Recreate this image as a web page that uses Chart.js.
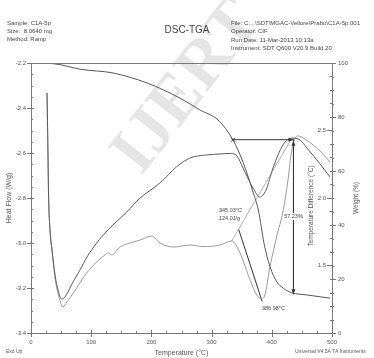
<!DOCTYPE html>
<html>
<head>
<meta charset="utf-8">
<script src="https://cdn.jsdelivr.net/npm/chart.js@4.4.1/dist/chart.umd.min.js"></script>
<style>
  html, body { margin: 0; padding: 0; background: #fff; }
  #wrap { width: 374px; height: 358px; position: relative; }
</style>
</head>
<body>
<div id="wrap"><canvas id="dscChart" width="374" height="358"></canvas></div>
<script>
// --- datos ---
// TGA: peso (%)
const tgaTemp   = [26.6, 48.2, 81.4, 136.2, 192.7, 247.5, 280.7, 310.6, 335.5, 352.2, 368.8, 378.0, 387.0, 397.0, 408.1, 419.1, 433.1, 458.0, 496.7];
const tgaWeight = [100, 99.4, 97.7, 96.3, 92.6, 87.0, 82.6, 78.9, 71.5, 63.3, 52.2, 45.2, 33.3, 24.6, 19.0, 16.6, 14.9, 14.1, 12.9];

// Diferencia de temperatura (°C), eje derecho
const dtaTemp = [26.6, 28.2, 29.1, 31.6, 34.9, 39.9, 44.9, 51.0, 56.5, 69.8, 81.4, 93.0, 109.1, 127.9, 159.0, 181.2, 214.3, 242.0, 264.1, 291.9, 313.9, 330.6, 342.2, 352.2, 368.8, 380.4, 390.4, 402.0, 418.6, 433.6, 446.8, 458.5, 480.1, 496.7];
const dtaDiff = [2.778, 2.356, 2.037, 1.763, 1.615, 1.430, 1.319, 1.252, 1.267, 1.378, 1.467, 1.563, 1.667, 1.763, 1.896, 2.0, 2.111, 2.232, 2.296, 2.319, 2.326, 2.330, 2.311, 2.222, 2.074, 2.007, 2.059, 2.222, 2.393, 2.444, 2.430, 2.370, 2.252, 2.156];

// Flujo de calor (W/g), eje izquierdo
const dscTemp = [26.6, 29.1, 31.6, 34.9, 39.9, 46.5, 52.7, 59.8, 70.3, 92.5, 109.1, 122.9, 128.4, 134.1, 147.8, 164.5, 181.1, 200.5, 214.3, 236.4, 264.1, 285.7, 313.9, 333.4, 347.2, 363.8, 374.9, 383.7, 388.5, 397.0, 408.1, 419.1, 426.9, 431.9, 436.9, 443.5, 455.1, 468.4, 480.1, 496.7];
const dscFlow = [-2.333, -2.778, -2.942, -3.031, -3.156, -3.240, -3.284, -3.262, -3.222, -3.133, -3.084, -3.053, -3.044, -3.053, -3.018, -3.0, -2.987, -2.969, -3.0, -3.018, -3.009, -3.016, -3.009, -2.991, -3.044, -3.164, -3.231, -3.248, -3.231, -3.105, -2.972, -2.853, -2.72, -2.609, -2.547, -2.524, -2.538, -2.564, -2.591, -2.64];

// construcciones del analisis
const onsetTemp = [345.03, 384.0];
const onsetFlow = [-2.94, -3.26];
const baseTemp  = [333.4, 432.0];
const baseFlow  = [-2.991, -2.54];
const lossTemp   = [335.5, 436.0];
const lossWeight = [71.6, 14.37];

// ticks
const xTicks  = [0, 100, 200, 300, 400, 500];
const hfTicks = [-2.2, -2.4, -2.6, -2.8, -3.0, -3.2, -3.4];
const tdTicks = [1.5, 2.0, 2.5];
const wTicks  = [0, 20, 40, 60, 80, 100];

const FONT = '"Liberation Sans", Arial, sans-serif';

function pts(xs, ys) {
    return xs.map((x, i) => ({ x: x, y: ys[i] }));
}

// Dibuja ejes, marcas, textos y flechas usando las escalas de Chart.js
const framePlugin = {
    id: 'frame',
    beforeDatasetsDraw(chart) {
        const ctx = chart.ctx;
        ctx.save();
        // marca de agua
        ctx.translate(188, 88);
        ctx.rotate(-52 * Math.PI / 180);
        ctx.fillStyle = 'rgba(0,0,0,0.10)';
        ctx.font = 'bold 68px "Liberation Serif", serif';
        ctx.textAlign = 'center';
        ctx.textBaseline = 'middle';
        ctx.fillText('IJERT', 0, 0);
        ctx.restore();
    },
    afterDatasetsDraw(chart) {
        const ctx = chart.ctx;
        const { left, right, top, bottom } = chart.chartArea;
        const sx = chart.scales.x, shf = chart.scales.hf, std = chart.scales.td, sw = chart.scales.w;
        ctx.save();
        ctx.strokeStyle = '#777';
        ctx.lineWidth = 1;
        ctx.beginPath();
        ctx.moveTo(left + 0.5, top); ctx.lineTo(left + 0.5, bottom);
        ctx.moveTo(left, bottom + 0.5); ctx.lineTo(right, bottom + 0.5);
        ctx.moveTo(right + 0.5, top); ctx.lineTo(right + 0.5, bottom);
        ctx.moveTo(left, top + 0.5); ctx.lineTo(right, top + 0.5);
        ctx.stroke();

        ctx.fillStyle = '#555';
        ctx.font = '6px ' + FONT;

        // eje x
        ctx.beginPath();
        for (let v = 0; v <= 500; v += 25) {
            const px = Math.round(sx.getPixelForValue(v)) + 0.5;
            const major = v % 100 === 0;
            ctx.moveTo(px, bottom - (major ? 3 : 2));
            ctx.lineTo(px, bottom + (major ? 4 : 1));
        }
        ctx.stroke();
        ctx.textAlign = 'center';
        ctx.textBaseline = 'top';
        xTicks.forEach(v => ctx.fillText(String(v), sx.getPixelForValue(v), bottom + 6));

        // eje izquierdo (flujo de calor)
        ctx.beginPath();
        for (let v = -3.4; v <= -2.2 + 1e-6; v += 0.05) {
            const py = Math.round(shf.getPixelForValue(v)) + 0.5;
            const major = Math.abs(Math.round(v * 5) - v * 5) < 1e-6;
            ctx.moveTo(left - (major ? 4 : 0), py);
            ctx.lineTo(left + (major ? 3 : 2), py);
        }
        ctx.stroke();
        ctx.textAlign = 'right';
        ctx.textBaseline = 'middle';
        hfTicks.forEach(v => ctx.fillText(v.toFixed(1), left - 5, shf.getPixelForValue(v)));

        // eje derecho: diferencia de temperatura (marcas hacia dentro)
        ctx.beginPath();
        for (let v = 1.0; v <= 3.0 + 1e-6; v += 0.1) {
            const py = Math.round(std.getPixelForValue(v)) + 0.5;
            const major = Math.abs(Math.round(v * 2) - v * 2) < 1e-6;
            ctx.moveTo(right - (major ? 5 : 2), py);
            ctx.lineTo(right, py);
        }
        ctx.stroke();
        tdTicks.forEach(v => ctx.fillText(v.toFixed(1), right - 6, std.getPixelForValue(v)));

        // eje derecho: peso (marcas hacia fuera)
        ctx.beginPath();
        for (let v = 0; v <= 100; v += 5) {
            const py = Math.round(sw.getPixelForValue(v)) + 0.5;
            const major = v % 20 === 0;
            ctx.moveTo(right, py);
            ctx.lineTo(right + (major ? 4 : 2), py);
        }
        ctx.stroke();
        ctx.textAlign = 'left';
        wTicks.forEach(v => ctx.fillText(String(v), right + 6, sw.getPixelForValue(v)));

        // titulos de ejes
        ctx.fillStyle = '#555';
        ctx.font = '7px ' + FONT;
        ctx.textAlign = 'center';
        ctx.textBaseline = 'middle';
        ctx.fillText('Temperature (°C)', (left + right) / 2, 353);
        const vtext = (t, x, y, size) => {
            ctx.save();
            ctx.translate(x, y);
            ctx.rotate(-Math.PI / 2);
            ctx.font = size + 'px ' + FONT;
            ctx.fillText(t, 0, 0);
            ctx.restore();
        };
        vtext('Heat Flow (W/g)', 9, 198, 7);
        vtext('Temperature Difference (°C)', 311, 206, 6.5);
        vtext('Weight (%)', 356, 198, 6.5);

        ctx.font = '5px ' + FONT;
        ctx.textAlign = 'left';
        ctx.fillText('Exo Up', 6, 352);
        ctx.fillText('Universal V4.5A TA Instruments', 295, 352);

        // encabezado
        ctx.fillStyle = '#444';
        ctx.font = '6px ' + FONT;
        ctx.fillText('Sample: C1A-5p', 7, 23);
        ctx.fillText('Size:  8.0640 mg', 7, 31);
        ctx.fillText('Method: Ramp', 7, 39);
        ctx.fillText('File: C:...\\SDT\\MGAC-Vellore\\Prabu\\C1A-5p.001', 231, 23);
        ctx.fillText('Operator: CIF', 231, 31);
        ctx.fillText('Run Date: 11-Mar-2013 10:13a', 231, 40);
        ctx.fillText('Instrument: SDT Q600 V20.9 Build 20', 231, 48);
        ctx.font = '10px ' + FONT;
        ctx.textAlign = 'center';
        ctx.fillText('DSC-TGA', 187, 30);

        // flechas de perdida de peso
        const ax = sx.getPixelForValue(lossTemp[0]);
        const bx = sx.getPixelForValue(lossTemp[1]);
        const ay = sw.getPixelForValue(lossWeight[0]);
        const by = sw.getPixelForValue(lossWeight[1]);
        ctx.fillStyle = '#333';
        ctx.beginPath();
        ctx.moveTo(bx, ay); ctx.lineTo(bx - 5, ay - 2); ctx.lineTo(bx - 5, ay + 2); ctx.closePath();
        ctx.moveTo(bx, ay + 1); ctx.lineTo(bx - 2, ay + 6); ctx.lineTo(bx + 2, ay + 6); ctx.closePath();
        ctx.moveTo(bx, by); ctx.lineTo(bx - 2, by - 5); ctx.lineTo(bx + 2, by - 5); ctx.closePath();
        ctx.fill();
        ctx.strokeStyle = '#333';
        ctx.beginPath();
        ctx.moveTo(ax - 2, ay - 2); ctx.lineTo(ax + 2, ay + 2);
        ctx.moveTo(ax - 2, ay + 2); ctx.lineTo(ax + 2, ay - 2);
        ctx.stroke();

        // etiquetas del analisis
        ctx.font = '5.5px ' + FONT;
        ctx.textBaseline = 'middle';
        const lossLabel = (lossWeight[0] - lossWeight[1]).toFixed(2) + '%';
        const lw = ctx.measureText(lossLabel).width;
        ctx.fillStyle = '#fff';
        ctx.fillRect(bx - lw / 2 - 1, 213, lw + 2, 7);
        ctx.fillStyle = '#444';
        ctx.textAlign = 'center';
        ctx.fillText(lossLabel, bx, 216.5);
        ctx.textAlign = 'left';
        ctx.fillText(onsetTemp[0].toFixed(2) + '°C', 219, 210);
        ctx.fillText('124.0J/g', 219, 218);
        ctx.fillText('386.98°C', 262, 308);
        ctx.restore();
    }
};

const lineDefaults = { pointRadius: 0, fill: false, borderWidth: 1, cubicInterpolationMode: 'monotone' };

new Chart(document.getElementById('dscChart'), {
    type: 'line',
    data: {
        datasets: [
            Object.assign({ label: 'Weight', data: pts(tgaTemp, tgaWeight), yAxisID: 'w', borderColor: '#555' }, lineDefaults),
            Object.assign({ label: 'Temperature Difference', data: pts(dtaTemp, dtaDiff), yAxisID: 'td', borderColor: '#5a5a5a' }, lineDefaults),
            Object.assign({ label: 'Heat Flow', data: pts(dscTemp, dscFlow), yAxisID: 'hf', borderColor: '#9a9a9a' }, lineDefaults),
            Object.assign({ label: 'Onset', data: pts(onsetTemp, onsetFlow), yAxisID: 'hf', borderColor: '#333' }, lineDefaults, { cubicInterpolationMode: 'default' }),
            Object.assign({ label: 'Baseline', data: pts(baseTemp, baseFlow), yAxisID: 'hf', borderColor: '#b0b0b0' }, lineDefaults, { cubicInterpolationMode: 'default' }),
            Object.assign({ label: 'Loss H', data: pts(lossTemp, [lossWeight[0], lossWeight[0]]), yAxisID: 'w', borderColor: '#333' }, lineDefaults, { cubicInterpolationMode: 'default' }),
            Object.assign({ label: 'Loss V', data: pts([lossTemp[1], lossTemp[1]], lossWeight), yAxisID: 'w', borderColor: '#333' }, lineDefaults, { cubicInterpolationMode: 'default' })
        ]
    },
    options: {
        responsive: false,
        animation: false,
        events: [],
        layout: { padding: { left: 31, right: 42, top: 63, bottom: 25 } },
        plugins: { legend: { display: false }, tooltip: { enabled: false } },
        scales: {
            x:  { type: 'linear', min: 0, max: 500, display: false },
            hf: { type: 'linear', min: -3.4, max: -2.2, display: false, position: 'left' },
            td: { type: 'linear', min: 1.0, max: 3.0, display: false, position: 'right' },
            w:  { type: 'linear', min: 0, max: 100, display: false, position: 'right' }
        }
    },
    plugins: [framePlugin]
});
</script>
</body>
</html>
